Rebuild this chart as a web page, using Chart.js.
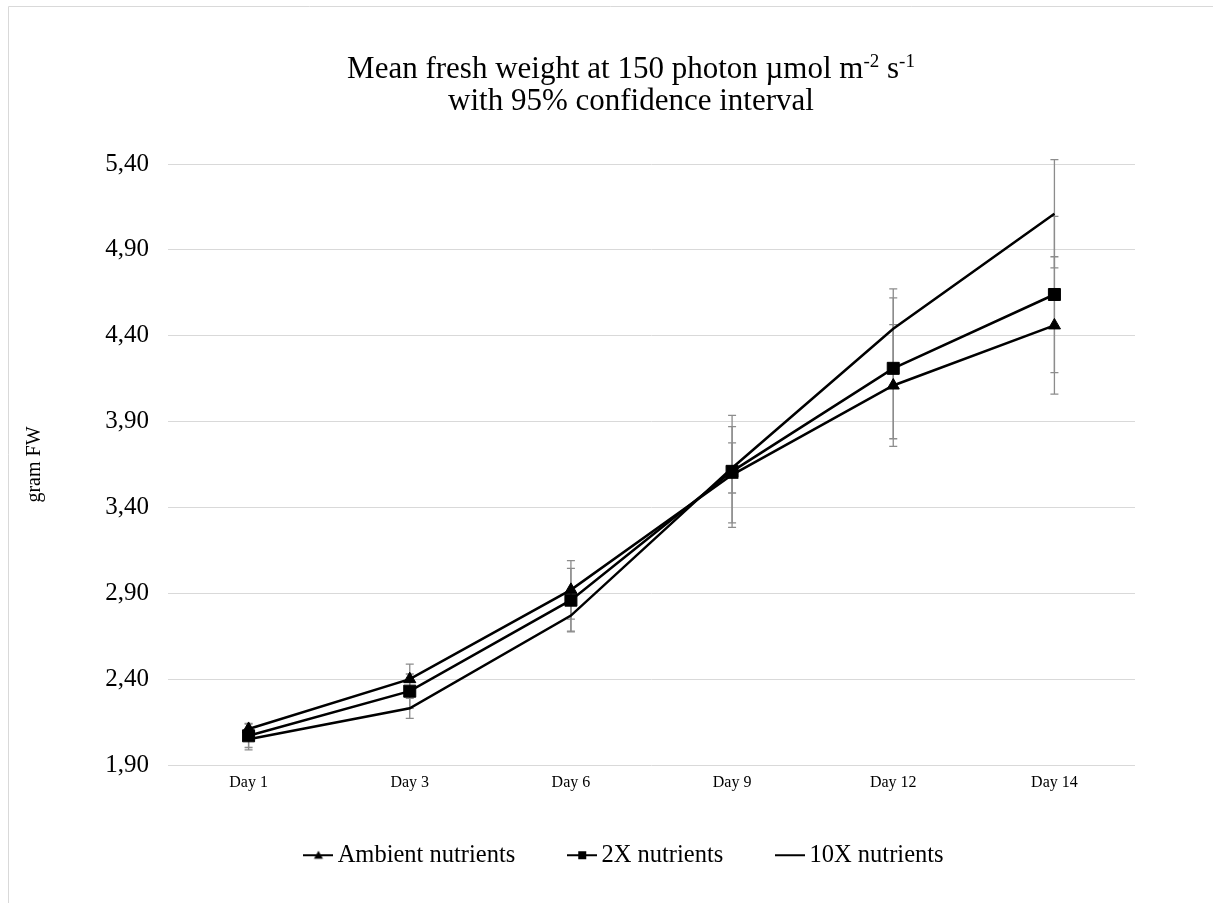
<!DOCTYPE html>
<html>
<head>
<meta charset="utf-8">
<title>Mean fresh weight</title>
<script src="https://cdn.jsdelivr.net/npm/chart.js@4.4.1/dist/chart.umd.min.js"></script>
<style>
  html, body { margin: 0; padding: 0; background: #fff; }
  #wrap { position: relative; width: 1213px; height: 903px; }
</style>
</head>
<body>
<div id="wrap"><canvas id="chart" width="1213" height="903"></canvas></div>
<script>
// Sampling days
const days = ['Day 1', 'Day 3', 'Day 6', 'Day 9', 'Day 12', 'Day 14'];

// Mean fresh weight (g FW) and half-width of the 95% confidence interval
const ambientMean = [2.11, 2.40, 2.92, 3.59, 4.11, 4.46];
const ambientCI   = [0.032, 0.087, 0.17, 0.28, 0.355, 0.40];

const twoXMean = [2.07, 2.33, 2.86, 3.61, 4.21, 4.64];
const twoXCI   = [0.068, 0.10, 0.185, 0.326, 0.41, 0.455];

const tenXMean = [2.05, 2.23, 2.77, 3.63, 4.44, 5.11];
const tenXCI   = [0.062, 0.058, 0.09, 0.146, 0.233, 0.315];

const seriesNames = ['Ambient nutrients', '2X nutrients', '10X nutrients'];

// Value axis range and spacing
const yMin = 1.9, yMax = 5.4, yStep = 0.5;

const SERIF = "'Liberation Serif', 'Times New Roman', Times, serif";

// Legend icons: a short line with the series marker on it
function legendIcon(marker) {
  const c = document.createElement('canvas');
  c.width = 30; c.height = 14;
  const g = c.getContext('2d');
  g.strokeStyle = '#000'; g.fillStyle = '#000'; g.lineWidth = 2;
  g.beginPath(); g.moveTo(0, 7); g.lineTo(30, 7); g.stroke();
  if (marker === 'triangle') {
    g.beginPath(); g.moveTo(15, 2.5); g.lineTo(19.5, 10.5); g.lineTo(10.5, 10.5); g.closePath(); g.fill();
  } else if (marker === 'rect') {
    g.fillRect(11, 3, 8, 8);
  }
  return c;
}
const legendIcons = [legendIcon('triangle'), legendIcon('rect'), legendIcon(null)];

// Thin frame along the top and left edges of the figure
const framePlugin = {
  id: 'frame',
  beforeDraw(chart) {
    const ctx = chart.ctx;
    ctx.save();
    ctx.strokeStyle = '#d9d9d9';
    ctx.lineWidth = 1;
    ctx.beginPath();
    ctx.moveTo(8.5, chart.height); ctx.lineTo(8.5, 6.5); ctx.lineTo(chart.width, 6.5);
    ctx.stroke();
    ctx.restore();
  }
};

// Two-line title with superscript units
const titlePlugin = {
  id: 'richTitle',
  afterDraw(chart) {
    const ctx = chart.ctx;
    const cx = 631;
    const base = 31, sup = 19;
    const line1 = [
      { t: 'Mean fresh weight at 150 photon \u00b5mol m' },
      { t: '-2', sup: true },
      { t: ' s' },
      { t: '-1', sup: true }
    ];
    ctx.save();
    ctx.fillStyle = '#000';
    ctx.textBaseline = 'alphabetic';
    ctx.textAlign = 'left';
    let w = 0;
    line1.forEach(s => {
      ctx.font = (s.sup ? sup : base) + 'px ' + SERIF;
      s.w = ctx.measureText(s.t).width;
      w += s.w;
    });
    let x = cx - w / 2;
    line1.forEach(s => {
      ctx.font = (s.sup ? sup : base) + 'px ' + SERIF;
      ctx.fillText(s.t, x, s.sup ? 67 : 78);
      x += s.w;
    });
    ctx.font = base + 'px ' + SERIF;
    ctx.textAlign = 'center';
    ctx.fillText('with 95% confidence interval', cx, 110);
    ctx.restore();
  }
};

// Vertical 95% CI bars with caps, drawn beneath the lines
const errorBarPlugin = {
  id: 'errorBars',
  beforeDatasetsDraw(chart) {
    const ctx = chart.ctx;
    const ys = chart.scales.y;
    ctx.save();
    ctx.strokeStyle = '#8c8c8c';
    ctx.lineWidth = 1.3;
    chart.data.datasets.forEach((ds, i) => {
      const meta = chart.getDatasetMeta(i);
      ds.errorBars.forEach((e, j) => {
        const x = meta.data[j].x;
        const top = ys.getPixelForValue(ds.data[j] + e);
        const bot = ys.getPixelForValue(ds.data[j] - e);
        ctx.beginPath();
        ctx.moveTo(x, top); ctx.lineTo(x, bot);
        ctx.moveTo(x - 4, top); ctx.lineTo(x + 4, top);
        ctx.moveTo(x - 4, bot); ctx.lineTo(x + 4, bot);
        ctx.stroke();
      });
    });
    ctx.restore();
  }
};

// Nudge the legend row so it sits centred under the plot
const legendShiftPlugin = {
  id: 'legendShift',
  afterLayout(chart) {
    const lg = chart.legend;
    if (lg) {
      lg.left += 60; lg.right += 60;
      lg.top -= 12; lg.bottom -= 12;
    }
  }
};

const line = { borderColor: '#000', backgroundColor: '#000', borderWidth: 2.5, tension: 0,
               pointBorderColor: '#000', pointBackgroundColor: '#000', pointBorderWidth: 1 };

new Chart(document.getElementById('chart'), {
  type: 'line',
  data: {
    labels: days,
    datasets: [
      Object.assign({ label: seriesNames[0], data: ambientMean, errorBars: ambientCI,
                      pointStyle: 'triangle', pointRadius: 7, order: 1 }, line),
      Object.assign({ label: seriesNames[1], data: twoXMean, errorBars: twoXCI,
                      pointStyle: 'rect', pointRadius: 8.5, order: 0 }, line),
      Object.assign({ label: seriesNames[2], data: tenXMean, errorBars: tenXCI,
                      pointRadius: 0, order: 2 }, line)
    ]
  },
  options: {
    responsive: false,
    animation: false,
    devicePixelRatio: 1,
    layout: { padding: { top: 164, right: 78, bottom: 13.5, left: 0 } },
    scales: {
      x: {
        offset: true,
        grid: { display: false, offset: true },
        border: { display: false },
        ticks: { color: '#000', font: { family: SERIF, size: 16 }, padding: 0, maxRotation: 0 },
        afterFit(s) { s.height = 30; }
      },
      y: {
        min: yMin, max: yMax,
        grid: { color: '#d9d9d9', lineWidth: 1, drawTicks: false },
        border: { display: false },
        ticks: {
          stepSize: yStep, padding: 19, color: '#000',
          font: { family: SERIF, size: 25 },
          callback: v => Number(v).toFixed(2).replace('.', ',')
        },
        title: { display: true, text: 'gram FW', color: '#000',
                 font: { family: SERIF, size: 20 }, padding: { top: 23, bottom: 0 } },
        afterFit(s) { s.width = 168; }
      }
    },
    plugins: {
      tooltip: { enabled: false },
      title: { display: false },
      legend: {
        position: 'bottom',
        labels: {
          usePointStyle: true,
          pointStyleWidth: 14,
          padding: 60,
          color: '#000',
          font: { family: SERIF, size: 24.5 },
          generateLabels(chart) {
            return chart.data.datasets.map((ds, i) => ({
              text: ds.label, datasetIndex: i, hidden: false,
              pointStyle: legendIcons[i], fillStyle: '#000', strokeStyle: '#000',
              lineWidth: 0, fontColor: '#000'
            }));
          }
        }
      }
    }
  },
  plugins: [framePlugin, errorBarPlugin, titlePlugin, legendShiftPlugin]
});
</script>
</body>
</html>
